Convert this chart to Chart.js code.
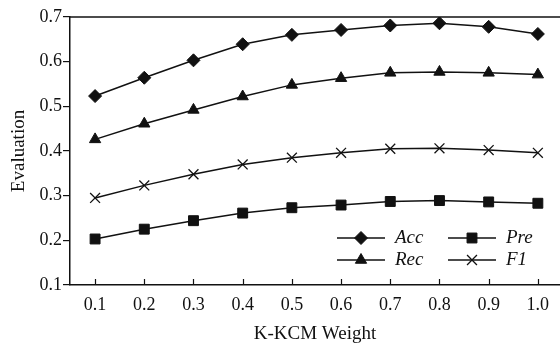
<!DOCTYPE html>
<html>
<head>
<meta charset="utf-8">
<script src="https://cdn.jsdelivr.net/npm/chart.js@4/dist/chart.umd.min.js"></script>
<style>
    html, body { margin: 0; padding: 0; background: #fff; }
    #wrap { width: 560px; height: 345px; }
</style>
</head>
<body>
<div id="wrap"><canvas id="evalChart"></canvas></div>
<script>
const weights = [0.1, 0.2, 0.3, 0.4, 0.5, 0.6, 0.7, 0.8, 0.9, 1.0];
const accValues = [0.523, 0.564, 0.603, 0.639, 0.660, 0.671, 0.681, 0.686, 0.678, 0.662];
const recValues = [0.426, 0.461, 0.492, 0.522, 0.548, 0.563, 0.575, 0.577, 0.575, 0.571];
const f1Values = [0.295, 0.323, 0.348, 0.370, 0.385, 0.396, 0.405, 0.406, 0.402, 0.396];
const preValues = [0.203, 0.225, 0.244, 0.261, 0.273, 0.279, 0.287, 0.289, 0.286, 0.283];
const xTicks = [0.1, 0.2, 0.3, 0.4, 0.5, 0.6, 0.7, 0.8, 0.9, 1.0];
const yTicks = [0.1, 0.2, 0.3, 0.4, 0.5, 0.6, 0.7];

const FONT = "'Liberation Serif', 'Times New Roman', serif";
const INK = "#111";

function series(label, values, style, radius) {
    return {
        label: label,
        data: weights.map((w, i) => ({x: w, y: values[i]})),
        borderColor: INK,
        backgroundColor: INK,
        borderWidth: 1.5,
        pointStyle: style,
        pointRadius: radius,
        pointBorderWidth: style === 'crossRot' ? 1.3 : 1,
        pointBorderColor: INK,
        pointBackgroundColor: INK,
        tension: 0,
        fill: false,
    };
}

const datasets = [
    series('Acc', accValues, 'rectRot', 6.5),
    series('Rec', recValues, 'triangle', 6.5),
    series('F1', f1Values, 'crossRot', 7),
    series('Pre', preValues, 'rect', 7),
];

// legend rows inside the plot, bottom right
const legendItems = [
    {index: 0, col: 0, row: 0},
    {index: 3, col: 1, row: 0},
    {index: 1, col: 0, row: 1},
    {index: 2, col: 1, row: 1},
];

const framePlugin = {
    id: 'frame',
    afterDraw(chart) {
        const ctx = chart.ctx;
        const area = chart.chartArea;
        const xs = chart.scales.x;
        ctx.save();
        ctx.strokeStyle = INK;
        ctx.lineWidth = 1.5;
        ctx.beginPath();
        ctx.moveTo(area.left, area.top);
        ctx.lineTo(area.right, area.top);
        ctx.stroke();

        // inward ticks on the x axis
        ctx.lineWidth = 1.2;
        xTicks.forEach(v => {
            const px = Math.round(xs.getPixelForValue(v)) + 0.5;
            ctx.beginPath();
            ctx.moveTo(px, area.bottom);
            ctx.lineTo(px, area.bottom - 6);
            ctx.stroke();
        });

        // legend
        const x0 = 337, y0 = 238, colW = 111, rowH = 22;
        ctx.font = "italic 19px " + FONT;
        ctx.textBaseline = 'middle';
        ctx.fillStyle = INK;
        legendItems.forEach(item => {
            const ds = chart.data.datasets[item.index];
            const lx = x0 + item.col * colW;
            const ly = y0 + item.row * rowH;
            ctx.lineWidth = 1.5;
            ctx.beginPath();
            ctx.moveTo(lx, ly);
            ctx.lineTo(lx + 48, ly);
            ctx.stroke();
            ctx.lineWidth = ds.pointBorderWidth;
            Chart.helpers.drawPoint(ctx, {
                pointStyle: ds.pointStyle,
                rotation: 0,
                radius: ds.pointRadius,
                borderWidth: ds.pointBorderWidth,
            }, lx + 24, ly);
            ctx.fillText(ds.label, lx + 58, ly);
        });
        ctx.restore();
    }
};

new Chart(document.getElementById('evalChart'), {
    type: 'line',
    data: {datasets: datasets},
    options: {
        responsive: true,
        maintainAspectRatio: false,
        animation: false,
        layout: {autoPadding: false, padding: {top: 17, right: 0, left: 0, bottom: 0}},
        plugins: {
            legend: {display: false},
            tooltip: {enabled: false},
        },
        scales: {
            x: {
                type: 'linear',
                min: 0.049,
                max: 1.045,
                afterBuildTicks: (scale) => {
                    scale.ticks = xTicks.map(v => ({value: v}));
                },
                afterFit: (scale) => {
                    scale.height = 60;
                },
                grid: {display: false},
                border: {display: true, color: INK, width: 1.5},
                ticks: {
                    color: INK,
                    padding: 1,
                    maxRotation: 0,
                    autoSkip: false,
                    font: {family: FONT, size: 18},
                    callback: (v) => Number(v).toFixed(1),
                },
                title: {
                    display: true,
                    text: 'K-KCM Weight',
                    color: INK,
                    padding: {top: 6, bottom: 0},
                    font: {family: FONT, size: 19},
                },
            },
            y: {
                min: 0.1,
                max: 0.7,
                afterBuildTicks: (scale) => {
                    scale.ticks = yTicks.map(v => ({value: v}));
                },
                afterFit: (scale) => { scale.width = 70; },
                grid: {
                    display: true,
                    drawOnChartArea: false,
                    drawTicks: true,
                    tickLength: 7,
                    color: INK,
                    lineWidth: 1.2,
                },
                border: {display: true, color: INK, width: 1.5},
                ticks: {
                    color: INK,
                    padding: 1,
                    font: {family: FONT, size: 18},
                    callback: (v) => Number(v).toFixed(1),
                },
                title: {
                    display: true,
                    text: 'Evaluation',
                    color: INK,
                    padding: {top: 8, bottom: 4},
                    font: {family: FONT, size: 19},
                },
            },
        },
    },
    plugins: [framePlugin],
});
</script>
</body>
</html>
